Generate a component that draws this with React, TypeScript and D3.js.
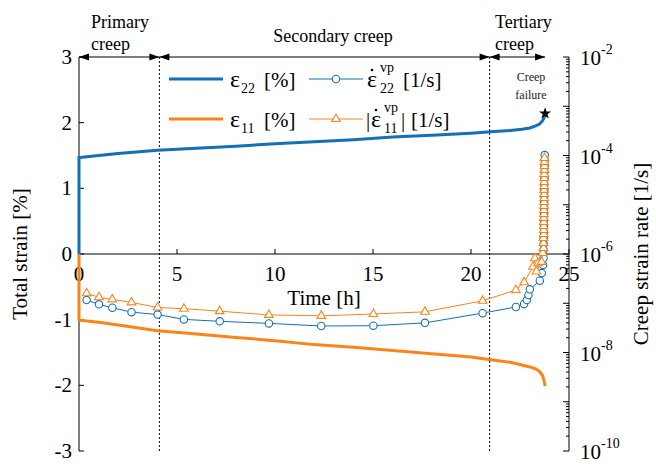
import React from "react";
import * as d3 from "d3";

// ---------- data ----------
const strainTime = [0, 0, 0.05, 1, 2, 4, 6, 8, 10, 12, 14, 16, 18, 20, 21, 22, 22.6, 23, 23.3, 23.5, 23.65, 23.72, 23.78];
const strain22 = [0, 1.47, 1.47, 1.5, 1.53, 1.58, 1.61, 1.64, 1.68, 1.71, 1.74, 1.78, 1.81, 1.84, 1.86, 1.88, 1.9, 1.92, 1.95, 1.98, 2.03, 2.07, 2.12];
const strain11 = [0, -1.0, -1.01, -1.04, -1.08, -1.17, -1.22, -1.27, -1.32, -1.38, -1.42, -1.47, -1.52, -1.57, -1.61, -1.65, -1.69, -1.72, -1.75, -1.79, -1.85, -1.92, -2.01];

const rateTime22 = [0.39, 1.02, 1.7, 2.68, 4.01, 5.35, 7.18, 9.69, 12.36, 15.02, 17.65, 20.59, 22.29, 22.71, 22.85, 22.93, 23.0, 23.51, 23.61, 23.68,
  23.7, 23.7, 23.71, 23.71, 23.72, 23.72, 23.72, 23.73, 23.73, 23.73, 23.74, 23.74, 23.74, 23.75, 23.75, 23.75, 23.76, 23.76];
const rate22 = [1.16e-7, 9.5e-8, 8.1e-8, 6.6e-8, 5.9e-8, 4.7e-8, 4.3e-8, 3.9e-8, 3.45e-8, 3.5e-8, 4.0e-8, 6.3e-8, 8.4e-8, 9.7e-8, 1.16e-7, 1.47e-7, 1.92e-7, 2.87e-7, 4.1e-7, 6.0e-7,
  8.3e-7, 1.2e-6, 1.6e-6, 2.1e-6, 2.8e-6, 3.7e-6, 4.9e-6, 6.5e-6, 8.6e-6, 1.14e-5, 1.5e-5, 2.0e-5, 2.6e-5, 3.5e-5, 4.6e-5, 6.1e-5, 8.1e-5, 1.02e-4];

const rateTime11 = [0.39, 1.02, 1.7, 2.68, 4.01, 5.35, 7.18, 9.69, 12.36, 15.02, 17.65, 20.59, 22.29, 22.71, 23.16, 23.26, 23.42, 23.34, 23.6, 23.66,
  23.7, 23.7, 23.7, 23.71, 23.71, 23.71, 23.71, 23.72, 23.72, 23.72, 23.72, 23.73, 23.73, 23.73, 23.73, 23.74, 23.74, 23.74, 23.74, 23.75, 23.75, 23.75, 23.75];
const rate11 = [1.59e-7, 1.32e-7, 1.2e-7, 1.04e-7, 8.2e-8, 7.75e-8, 6.9e-8, 5.8e-8, 5.55e-8, 6.05e-8, 6.7e-8, 1.12e-7, 1.86e-7, 2.66e-7, 5.5e-7, 8.2e-7, 6.5e-7, 4.4e-7, 6.9e-7, 1.05e-6,
  1.32e-6, 1.67e-6, 2.11e-6, 2.55e-6, 3.07e-6, 3.7e-6, 4.47e-6, 5.4e-6, 6.5e-6, 7.8e-6, 9.4e-6, 1.14e-5, 1.37e-5, 1.65e-5, 2.0e-5, 2.4e-5, 2.9e-5, 3.5e-5, 4.2e-5, 5.1e-5, 6.1e-5, 7.4e-5, 8.9e-5];

const xTicks = [0, 5, 10, 15, 20, 25];
const yLeftTicks = [-3, -2, -1, 0, 1, 2, 3];
const yRightLabelExps = [-2, -4, -6, -8, -10];
const phaseBounds = [0, 4.1, 20.95, 23.78];
const failure = { t: 23.78, v: 2.14 };

const BLUE = "#1170b8";
const ORANGE = "#fb8419";
const FONT = "Liberation Serif, DejaVu Serif, serif";

export default function App() {
  const x = d3.scaleLinear().domain([0, 25]).range([79, 569]);
  const yL = d3.scaleLinear().domain([-3, 3]).range([451, 57]);
  const yR = d3.scaleLog().domain([1e-10, 1e-2]).range([451, 57]);

  const strainLine = (vals: number[]) =>
    d3.line<number>().x((_, i) => x(strainTime[i])).y((v) => yL(v))(vals) as string;
  const rateLine = (ts: number[], vs: number[]) =>
    d3.line<number>().x((_, i) => x(ts[i])).y((v) => yR(v))(vs) as string;

  const tri = d3.symbol().type(d3.symbolTriangle).size(32)() as string;
  const star = d3.symbol().type(d3.symbolStar).size(45)() as string;

  const rightTicks: { v: number; major: boolean }[] = [];
  for (let e = -10; e <= -2; e++) {
    rightTicks.push({ v: Math.pow(10, e), major: true });
    if (e < -2) for (let m = 2; m <= 9; m++) rightTicks.push({ v: m * Math.pow(10, e), major: false });
  }

  const yTop = yL(3);
  const arrowHead = (xt: number, dir: number) =>
    `M${xt},${yTop} L${xt - dir * 10},${yTop - 3.5} L${xt - dir * 10},${yTop + 3.5} Z`;

  return (
    <svg width={656} height={466} style={{ position: "absolute", left: 0, top: 0, background: "#fff", fontFamily: FONT }}>
      {phaseBounds.slice(1, 3).map((t, i) => (
        <line key={i} x1={x(t)} x2={x(t)} y1={57} y2={451} stroke="#000" strokeWidth={1} strokeDasharray="2,2" />
      ))}
      {phaseBounds.slice(0, 3).map((t, i) => {
        const a = x(t), b = x(phaseBounds[i + 1]);
        return (
          <g key={i}>
            <line x1={a} x2={b} y1={yTop} y2={yTop} stroke="#000" strokeWidth={1} />
            <path d={arrowHead(a, -1)} fill="#000" />
            <path d={arrowHead(b, 1)} fill="#000" />
          </g>
        );
      })}
      <g fontSize={18} fill="#000">
        <text x={91} y={28}>Primary</text>
        <text x={91} y={50}>creep</text>
        <text x={333} y={42} textAnchor="middle">Secondary creep</text>
        <text x={495} y={28}>Tertiary</text>
        <text x={495} y={50}>creep</text>
      </g>

      <line x1={79} x2={79} y1={57} y2={451} stroke="#000" strokeWidth={1} />
      {yLeftTicks.map((v) => (
        <g key={v}>
          <line x1={79} x2={84} y1={yL(v)} y2={yL(v)} stroke="#000" />
          <text x={72} y={yL(v) + 7} textAnchor="end" fontSize={21}>{v}</text>
        </g>
      ))}
      <text transform={`translate(27,${(57 + 451) / 2}) rotate(-90)`} textAnchor="middle" fontSize={21}>Total strain [%]</text>

      <line x1={569} x2={569} y1={57} y2={451} stroke="#000" strokeWidth={1} />
      {rightTicks.map((t, i) => (
        <line key={i} x1={569} x2={569 - (t.major ? 6 : 3)} y1={yR(t.v)} y2={yR(t.v)} stroke="#000" strokeWidth={1} />
      ))}
      {yRightLabelExps.map((e) => (
        <g key={e} fontSize={21}>
          <text x={580} y={yR(Math.pow(10, e)) + 8}>10</text>
          <text x={601} y={yR(Math.pow(10, e)) - 3} fontSize={14}>{e}</text>
        </g>
      ))}
      <text transform={`translate(648,${(57 + 451) / 2}) rotate(-90)`} textAnchor="middle" fontSize={21}>Creep strain rate [1/s]</text>

      <line x1={79} x2={569} y1={yL(0)} y2={yL(0)} stroke="#000" strokeWidth={1} />
      {xTicks.map((t) => (
        <g key={t}>
          <line x1={x(t)} x2={x(t)} y1={yL(0)} y2={yL(0) - 5} stroke="#000" />
          <text x={x(t)} y={yL(0) + 27} textAnchor="middle" fontSize={21}>{t}</text>
        </g>
      ))}
      <text x={x(12.5)} y={yL(0) + 51} textAnchor="middle" fontSize={21}>Time [h]</text>

      <path d={strainLine(strain22)} fill="none" stroke={BLUE} strokeWidth={3} />
      <path d={strainLine(strain11)} fill="none" stroke={ORANGE} strokeWidth={3} />

      <path d={rateLine(rateTime22, rate22)} fill="none" stroke={BLUE} strokeWidth={1} />
      {rate22.map((v, i) => (
        <circle key={i} cx={x(rateTime22[i])} cy={yR(v)} r={3.7} fill="#fff" stroke={BLUE} strokeWidth={1.1} />
      ))}
      <path d={rateLine(rateTime11, rate11)} fill="none" stroke={ORANGE} strokeWidth={1} />
      {rate11.map((v, i) => (
        <path key={i} d={tri} transform={`translate(${x(rateTime11[i])},${yR(v)})`} fill="#fff" stroke={ORANGE} strokeWidth={1.1} />
      ))}

      <path d={star} transform={`translate(${x(failure.t)},${yL(failure.v)})`} fill="#000" />
      <g fontSize={12} textAnchor="middle" fill="#222">
        <text x={531} y={81}>Creep</text>
        <text x={531} y={99}>failure</text>
      </g>

      <g fontSize={21}>
        <line x1={169} x2={223} y1={79} y2={79} stroke={BLUE} strokeWidth={3} />
        <text x={230} y={87} fontSize={24}>ε</text>
        <text x={241} y={93} fontSize={14}>22</text>
        <text x={264} y={87}>[%]</text>
        <line x1={309} x2={363} y1={79} y2={79} stroke={BLUE} strokeWidth={1} />
        <circle cx={336} cy={79} r={3.7} fill="#fff" stroke={BLUE} strokeWidth={1.1} />
        <text x={367} y={87} fontSize={24}>ε</text>
        <circle cx={372} cy={70} r={1.3} fill="#000" />
        <text x={380} y={72} fontSize={14}>vp</text>
        <text x={380} y={93} fontSize={14}>22</text>
        <text x={403} y={87}>[1/s]</text>

        <line x1={169} x2={223} y1={119} y2={119} stroke={ORANGE} strokeWidth={3} />
        <text x={230} y={127} fontSize={24}>ε</text>
        <text x={241} y={133} fontSize={14}>11</text>
        <text x={264} y={127}>[%]</text>
        <line x1={309} x2={363} y1={119} y2={119} stroke={ORANGE} strokeWidth={1} />
        <path d={tri} transform="translate(336,119)" fill="#fff" stroke={ORANGE} strokeWidth={1.1} />
        <text x={366} y={127}>|</text>
        <text x={371} y={127} fontSize={24}>ε</text>
        <circle cx={376} cy={110} r={1.3} fill="#000" />
        <text x={384} y={112} fontSize={14}>vp</text>
        <text x={384} y={133} fontSize={14}>11</text>
        <text x={401} y={127}>|</text>
        <text x={411} y={127}>[1/s]</text>
      </g>
    </svg>
  );
}
